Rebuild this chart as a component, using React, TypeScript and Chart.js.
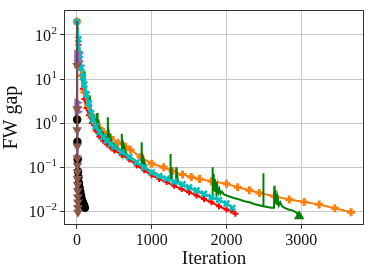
import React, { useEffect, useRef } from "react";
import { Chart, registerables } from "chart.js";
Chart.register(...registerables);

const xTickValues = [0, 1000, 2000, 3000];
const yTickExponents = [-2, -1, 0, 1, 2];
const xAxisTitle = "Iteration";
const yAxisTitle = "FW gap";

const redX = [0, 20, 40, 60, 80, 100, 130, 160, 200, 250, 300, 350, 400, 450, 500, 600, 700, 800, 900, 1000, 1100, 1200, 1300, 1400, 1500, 1600, 1700, 1800, 1900, 2000, 2060, 2120];
const redY = [200, 60, 25, 12, 6, 3.5, 2.2, 1.5, 1.0, 0.68, 0.5, 0.4, 0.33, 0.28, 0.24, 0.19, 0.15, 0.11, 0.085, 0.066, 0.054, 0.046, 0.038, 0.032, 0.027, 0.023, 0.019, 0.016, 0.013, 0.011, 0.0105, 0.0088];

const cyanX = [0, 20, 40, 60, 80, 100, 130, 160, 190, 213, 250, 300, 350, 400, 450, 500, 600, 700, 800, 900, 1000, 1100, 1200, 1300, 1413, 1500, 1600, 1700, 1800, 1900, 2000, 2080];
const cyanY = [200, 80, 35, 18, 11, 7.5, 4.5, 2.8, 1.7, 1.2, 0.85, 0.62, 0.48, 0.4, 0.33, 0.29, 0.22, 0.17, 0.13, 0.1, 0.076, 0.063, 0.055, 0.047, 0.041, 0.035, 0.03, 0.025, 0.021, 0.018, 0.015, 0.012];

const orangeX = [0, 30, 60, 100, 150, 200, 250, 300, 360, 450, 550, 650, 716, 850, 1000, 1160, 1280, 1413, 1530, 1640, 1800, 2000, 2150, 2307, 2440, 2640, 2840, 3040, 3240, 3450, 3667];
const orangeY = [200, 40, 12, 5, 2.5, 1.5, 1.0, 0.78, 0.62, 0.47, 0.36, 0.29, 0.25, 0.17, 0.12, 0.1, 0.082, 0.068, 0.06, 0.054, 0.048, 0.042, 0.035, 0.03, 0.026, 0.022, 0.0185, 0.0162, 0.0143, 0.0118, 0.0095];

const greenX = [0, 20, 40, 60, 80, 95, 100, 105, 130, 165, 173, 180, 220, 265, 271, 276, 282, 290, 330, 380, 408, 413, 418, 424, 432, 445, 470, 520, 595, 600, 605, 612, 620, 632, 660, 720, 800, 860, 866, 871, 878, 886, 898, 930, 1000, 1100, 1180, 1245, 1250, 1255, 1262, 1272, 1290, 1325, 1329, 1334, 1342, 1355, 1400, 1480, 1560, 1650, 1750, 1808, 1813, 1818, 1823, 1830, 1838, 1846, 1855, 1865, 1877, 1890, 1905, 1920, 1940, 1970, 2030, 2100, 2173, 2240, 2307, 2380, 2450, 2490, 2493, 2497, 2550, 2600, 2636, 2640, 2645, 2651, 2658, 2666, 2675, 2686, 2700, 2720, 2745, 2780, 2830, 2880, 2933, 2973];
const greenY = [200, 75, 32, 17, 11, 8, 15, 7, 4.6, 2.4, 4.2, 2.2, 1.5, 1.05, 1.7, 0.9, 1.2, 0.85, 0.66, 0.5, 0.4, 1.35, 0.45, 0.7, 0.4, 0.5, 0.36, 0.3, 0.23, 0.57, 0.24, 0.4, 0.22, 0.3, 0.2, 0.17, 0.13, 0.106, 0.37, 0.11, 0.2, 0.1, 0.14, 0.092, 0.08, 0.066, 0.058, 0.052, 0.2, 0.055, 0.1, 0.05, 0.048, 0.045, 0.1, 0.045, 0.065, 0.043, 0.04, 0.036, 0.031, 0.027, 0.023, 0.021, 0.1, 0.035, 0.07, 0.03, 0.055, 0.028, 0.045, 0.027, 0.038, 0.026, 0.032, 0.025, 0.028, 0.024, 0.022, 0.02, 0.0185, 0.017, 0.016, 0.0145, 0.0135, 0.013, 0.073, 0.013, 0.0125, 0.012, 0.012, 0.038, 0.016, 0.03, 0.015, 0.025, 0.014, 0.02, 0.0135, 0.016, 0.013, 0.012, 0.011, 0.0105, 0.0095, 0.0077];

const purpleX = [0, 1, 2, 3, 4, 5, 6, 7, 8];
const purpleY = [200, 37, 28, 22, 2.9, 2.3, 1.8, 0.5, 0.16];

const brownX = [0, 1, 2, 3, 4, 5, 6, 7, 8, 9, 10, 11, 12, 13, 14];
const brownY = [200, 20, 2.1, 0.7, 0.3, 0.16, 0.11, 0.078, 0.055, 0.04, 0.029, 0.021, 0.016, 0.012, 0.0095];

const blackX = [0, 3, 6, 10, 15, 20, 27, 35, 45, 55, 65, 80, 95, 107];
const blackY = [200, 1.2, 0.38, 0.15, 0.08, 0.06, 0.044, 0.035, 0.028, 0.023, 0.019, 0.016, 0.014, 0.012];

const FONT = "'Liberation Serif', 'DejaVu Serif', serif";

export default function App() {
  const ref = useRef<HTMLCanvasElement>(null);
  useEffect(() => {
    document.body.style.margin = "0";
    const pts = (xs: number[], ys: number[]) => xs.map((x, i) => ({ x, y: ys[i] }));
    const greenRadius = greenX.map((_, i) => (i === greenX.length - 1 ? 4 : 0));
    const skipFirst = (xs: number[], r: number) => xs.map((_, i) => (i === 0 ? 0 : r));
    const purpleRadius = purpleY.map((v, i) => (i === 0 || v === 0.5 ? 0 : 4));

    const framePlugin = {
      id: "frame",
      afterDraw(chart: any) {
        const { ctx, chartArea: a } = chart;
        ctx.save();
        ctx.strokeStyle = "#333";
        ctx.lineWidth = 1;
        ctx.strokeRect(Math.round(a.left) + 0.5, Math.round(a.top) + 0.5, Math.round(a.right - a.left) - 1, Math.round(a.bottom - a.top) - 1);
        const ys = chart.scales.y;
        const rightEdge = 57;
        yTickExponents.forEach((e) => {
          const py = ys.getPixelForValue(Math.pow(10, e));
          const expText = e < 0 ? "\u2212" + Math.abs(e) : String(e);
          ctx.font = `11px ${FONT}`;
          const ew = ctx.measureText(expText).width;
          ctx.fillStyle = "#111";
          ctx.textBaseline = "alphabetic";
          ctx.textAlign = "left";
          ctx.fillText(expText, rightEdge - ew, py - 1);
          ctx.font = `16px ${FONT}`;
          ctx.textAlign = "right";
          ctx.fillText("10", rightEdge - ew - 0.5, py + 6);
        });
        ctx.restore();
      },
    };

    const chart = new Chart(ref.current!, {
      type: "line",
      data: {
        datasets: [
          { data: pts(brownX, brownY), borderColor: "#8c564b", backgroundColor: "#8c564b", borderWidth: 1.5, pointStyle: "triangle", rotation: 180, pointRadius: skipFirst(brownX, 4) },
          { data: pts(blackX, blackY), borderColor: "#000", backgroundColor: "#000", borderWidth: 1.5, pointStyle: "circle", pointRadius: skipFirst(blackX, 3.5) },
          { data: pts(purpleX, purpleY), borderColor: "#9467bd", backgroundColor: "#9467bd", borderWidth: 1.5, pointStyle: "triangle", rotation: 90, pointRadius: purpleRadius },
          { data: pts(cyanX, cyanY), borderColor: "#00bfbf", backgroundColor: "#00bfbf", borderWidth: 2.5, pointStyle: "crossRot", pointRadius: 4, pointBorderWidth: 2.5 },
          { data: pts(greenX, greenY), borderColor: "#008000", backgroundColor: "#008000", borderWidth: 2, pointStyle: "triangle", pointRadius: greenRadius },
          { data: pts(orangeX, orangeY), borderColor: "#ff7f0e", backgroundColor: "#ff7f0e", borderWidth: 2, pointStyle: "cross", pointRadius: 4, pointBorderWidth: 3 },
          { data: pts(redX, redY), borderColor: "#ff0000", backgroundColor: "#ff0000", borderWidth: 2, pointStyle: "cross", pointRadius: 3, pointBorderWidth: 2 },
        ],
      },
      options: {
        animation: false,
        responsive: false,
        layout: { padding: { left: 0, right: 6, top: 6, bottom: 0 } },
        plugins: { legend: { display: false }, tooltip: { enabled: false } },
        elements: { line: { tension: 0 } },
        scales: {
          x: {
            type: "linear",
            min: -173,
            max: 3840,
            afterBuildTicks: (s: any) => { s.ticks = xTickValues.map((v) => ({ value: v })); },
            afterFit: (s: any) => { s.height = 47; },
            grid: { color: "#c8c8c8", lineWidth: 1, tickLength: 4, tickColor: "#333" },
            border: { display: false },
            ticks: { color: "#111", font: { family: FONT, size: 16 }, padding: 2, maxRotation: 0, autoSkip: false, callback: (v: any) => String(v) },
            title: { display: true, text: xAxisTitle, color: "#111", font: { family: FONT, size: 19 }, padding: { top: 0, bottom: 2 } },
          },
          y: {
            type: "logarithmic",
            min: 0.0049,
            max: 363,
            afterBuildTicks: (s: any) => { s.ticks = yTickExponents.map((e) => ({ value: Math.pow(10, e) })); },
            afterFit: (s: any) => { s.width = 64; },
            grid: { color: "#c8c8c8", lineWidth: 1, tickLength: 4, tickColor: "#333" },
            border: { display: false },
            ticks: { callback: () => "", autoSkip: false },
            title: { display: true, text: yAxisTitle, color: "#111", font: { family: FONT, size: 20 }, padding: { top: 0, bottom: 0 } },
          },
        },
      },
      plugins: [framePlugin],
    } as any);
    return () => chart.destroy();
  }, []);
  return <canvas ref={ref} width={371} height={272} style={{ display: "block" }} />;
}
